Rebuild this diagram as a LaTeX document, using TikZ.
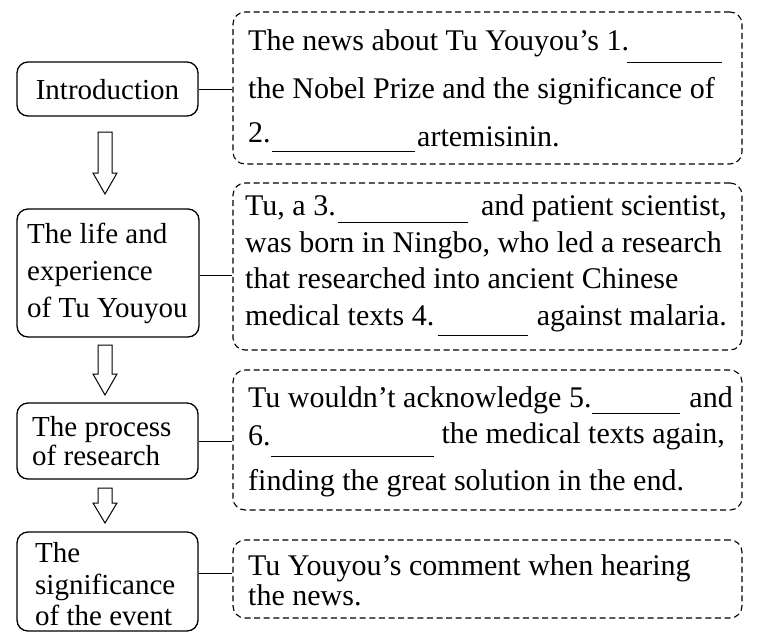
\documentclass[tikz,border=0pt]{standalone}
\usepackage{fontspec}
\setmainfont{Liberation Serif}
\begin{document}
\begin{tikzpicture}[x=1pt,y=-1pt,
  lbox/.style={draw, line width=1.3pt, rounded corners=11pt, inner sep=0pt},
  dbox/.style={draw, line width=1.1pt, dash pattern=on 6pt off 3.6pt, rounded corners=12pt, inner sep=0pt},
  txt/.style={anchor=base west, inner sep=0pt, font=\fontsize{30}{32}\selectfont},
  ltxt/.style={txt, font=\fontsize{29}{32}\selectfont},
  txtr/.style={txt, anchor=base east},
  blank/.style={line width=1pt},
  conn/.style={line width=1pt},
  harrow/.style={draw, line width=1pt, fill=white, line join=miter}]
\fill[white] (0,0) rectangle (763,641);
\useasboundingbox (0,0) rectangle (763,641);

% left boxes
\node[lbox, minimum width=181pt, minimum height=54pt] (intro) at (107.5,89) {};
\node[lbox, minimum width=182pt, minimum height=128pt] (life) at (108,273) {};
\node[lbox, minimum width=181pt, minimum height=76pt] (proc) at (107.5,441) {};
\node[lbox, minimum width=181pt, minimum height=99pt] (sig) at (107.5,581.5) {};

% right dashed boxes
\node[dbox, minimum width=509pt, minimum height=152pt] (b1) at (487.5,88) {};
\node[dbox, minimum width=509pt, minimum height=167pt] (b2) at (487.5,266.5) {};
\node[dbox, minimum width=509pt, minimum height=140pt] (b3) at (487.5,440) {};
\node[dbox, minimum width=509pt, minimum height=78pt] (b4) at (487.5,579) {};

% left texts
\node[ltxt, anchor=base] (tintro) at (107.5,99) {Introduction};
\node[ltxt] (tl1) at (27,243) {The life and};
\node[ltxt] (tl2) at (27,280) {experience};
\node[ltxt] (tl3) at (27,317) {of Tu Youyou};
\node[ltxt] (tp1) at (32,436) {The process};
\node[ltxt] (tp2) at (32,465) {of research};
\node[ltxt] (ts1) at (35,562) {The};
\node[ltxt] (ts2) at (35,594) {significance};
\node[ltxt] (ts3) at (35,625) {of the event};

% box 1
\node[txt] (t1a) at (248,50) {The news about Tu Youyou’s 1.};
\draw[blank] (627,62) -- (722,62);
\node[txt] (t1b) at (248,98) {the Nobel Prize and the significance of};
\node[txt] (t1c) at (248,142) {2.};
\draw[blank] (272,151) -- (415,151);
\node[txt] (t1d) at (417,146) {artemisinin.};

% box 2
\node[txt] (t2a) at (245,215) {Tu, a 3.};
\draw[blank] (338,222) -- (468,222);
\node[txtr] (t2b) at (727,215) {and patient scientist,};
\node[txt] (t2c) at (245,252) {was born in Ningbo, who led a research};
\node[txt] (t2d) at (245,288) {that researched into ancient Chinese};
\node[txt] (t2e) at (245,325) {medical texts 4.};
\draw[blank] (438,335) -- (528,335);
\node[txtr] (t2f) at (727,325) {against malaria.};

% box 3
\node[txt] (t3a) at (248,407) {Tu wouldn’t acknowledge 5.};
\draw[blank] (592,413) -- (680,413);
\node[txtr] (t3b) at (733,407) {and};
\node[txt] (t3c) at (248,445) {6.};
\draw[blank] (271,456) -- (434,456);
\node[txtr] (t3d) at (725,443) {the medical texts again,};
\node[txt] (t3e) at (248,490) {finding the great solution in the end.};

% box 4
\node[txt] (t4a) at (248,575) {Tu Youyou’s comment when hearing};
\node[txt] (t4b) at (248,605) {the news.};

% connectors
\draw[conn] (intro.east) -- (intro.east -| b1.west);
\draw[conn] ([yshift=-2pt]life.east) -- ([yshift=-2pt]life.east -| b2.west);
\draw[conn] (proc.east) -- (proc.east -| b3.west);
\draw[conn] ([yshift=8.5pt]sig.east) -- ([yshift=8.5pt]sig.east -| b4.west);

% hollow arrows
\draw[harrow] (98,132) -- (112,132) -- (112,173) -- (117,173) -- (105,194) -- (93,173) -- (98,173) -- cycle;
\draw[harrow] (98,345) -- (112,345) -- (112,374) -- (117,374) -- (105,395) -- (93,374) -- (98,374) -- cycle;
\draw[harrow] (98,488) -- (112,488) -- (112,503) -- (117,503) -- (105,523) -- (93,503) -- (98,503) -- cycle;
\end{tikzpicture}
\end{document}
